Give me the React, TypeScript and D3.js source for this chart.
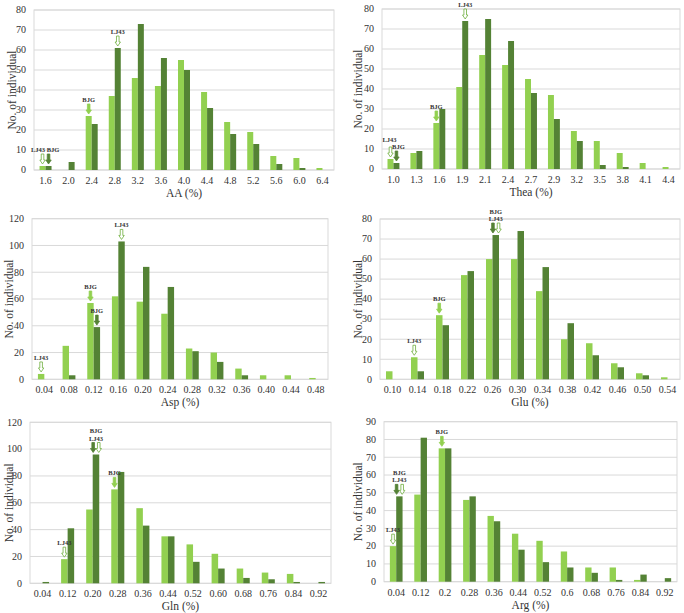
import * as d3 from 'd3'

// ---- data ----
const aaCats = ['1.6', '2.0', '2.4', '2.8', '3.2', '3.6', '4.0', '4.4', '4.8', '5.2', '5.6', '6.0', '6.4']
const aaLight = [2, 0, 27, 37, 46, 42, 55, 39, 24, 19, 7, 6, 1]
const aaDark = [2, 4, 23, 61, 73, 56, 50, 31, 18, 13, 3, 1, 0]

const theaCats = ['1.0', '1.3', '1.6', '1.9', '2.1', '2.4', '2.7', '2.9', '3.2', '3.5', '3.8', '4.1', '4.4']
const theaLight = [5, 8, 23, 41, 57, 52, 45, 37, 19, 14, 8, 3, 1]
const theaDark = [3, 9, 30, 74, 75, 64, 38, 25, 14, 2, 1, 0, 0]

const aspCats = ['0.04', '0.08', '0.12', '0.16', '0.20', '0.24', '0.28', '0.32', '0.36', '0.40', '0.44', '0.48']
const aspLight = [4, 25, 57, 62, 58, 49, 23, 20, 8, 3, 3, 1]
const aspDark = [0, 3, 39, 103, 84, 69, 21, 13, 3, 0, 0, 0]

const gluCats = ['0.10', '0.14', '0.18', '0.22', '0.26', '0.30', '0.34', '0.38', '0.42', '0.46', '0.50', '0.54']
const gluLight = [4, 11, 32, 52, 60, 60, 44, 20, 18, 8, 3, 1]
const gluDark = [0, 4, 27, 54, 72, 74, 56, 28, 12, 6, 2, 0]

const glnCats = ['0.04', '0.12', '0.20', '0.28', '0.36', '0.44', '0.52', '0.60', '0.68', '0.76', '0.84', '0.92']
const glnLight = [0, 18, 55, 70, 56, 35, 29, 22, 11, 8, 7, 0]
const glnDark = [1, 41, 96, 83, 43, 35, 16, 11, 4, 3, 1, 1]

const argCats = ['0.04', '0.12', '0.2', '0.28', '0.36', '0.44', '0.52', '0.6', '0.68', '0.76', '0.84', '0.92']
const argLight = [20, 49, 75, 46, 37, 27, 23, 17, 8, 8, 1, 0]
const argDark = [48, 81, 75, 48, 34, 18, 11, 8, 5, 1, 4, 2]

type ArrowKind = 'hollow' | 'filledLight' | 'filledDark'
interface Note {
  cat: string
  bar: 'light' | 'dark'
  arrows: ArrowKind[]
  lines: string[]
  dx?: number
  dy?: number
}

const aaNotes: Note[] = [
  { cat: '1.6', bar: 'light', arrows: ['hollow'], lines: ['LJ43'], dx: -4.5 },
  { cat: '1.6', bar: 'dark', arrows: ['filledDark'], lines: ['BJG'], dx: 4.5 },
  { cat: '2.4', bar: 'light', arrows: ['filledLight'], lines: ['BJG'] },
  { cat: '2.8', bar: 'dark', arrows: ['hollow'], lines: ['LJ43'] },
]
const theaNotes: Note[] = [
  { cat: '1.0', bar: 'light', arrows: ['hollow'], lines: ['LJ43'], dx: -1, dy: -3 },
  { cat: '1.0', bar: 'dark', arrows: ['filledDark'], lines: ['BJG'], dx: 2 },
  { cat: '1.6', bar: 'light', arrows: ['filledLight'], lines: ['BJG'] },
  { cat: '1.9', bar: 'dark', arrows: ['hollow'], lines: ['LJ43'] },
]
const aspNotes: Note[] = [
  { cat: '0.04', bar: 'light', arrows: ['hollow'], lines: ['LJ43'] },
  { cat: '0.12', bar: 'light', arrows: ['filledLight'], lines: ['BJG'] },
  { cat: '0.12', bar: 'dark', arrows: ['filledDark'], lines: ['BJG'] },
  { cat: '0.16', bar: 'dark', arrows: ['hollow'], lines: ['LJ43'] },
]
const gluNotes: Note[] = [
  { cat: '0.14', bar: 'light', arrows: ['hollow'], lines: ['LJ43'] },
  { cat: '0.18', bar: 'light', arrows: ['filledLight'], lines: ['BJG'] },
  { cat: '0.26', bar: 'dark', arrows: ['filledDark', 'hollow'], lines: ['BJG', 'LJ43'] },
]
const glnNotes: Note[] = [
  { cat: '0.12', bar: 'light', arrows: ['hollow'], lines: ['LJ43'] },
  { cat: '0.20', bar: 'dark', arrows: ['filledDark', 'hollow'], lines: ['BJG', 'LJ43'] },
  { cat: '0.28', bar: 'light', arrows: ['filledLight'], lines: ['BJG'] },
]
const argNotes: Note[] = [
  { cat: '0.04', bar: 'light', arrows: ['hollow'], lines: ['LJ43'] },
  { cat: '0.04', bar: 'dark', arrows: ['filledDark', 'hollow'], lines: ['BJG', 'LJ43'] },
  { cat: '0.2', bar: 'light', arrows: ['filledLight'], lines: ['BJG'] },
]

const LIGHT = '#92d050'
const DARK = '#548235'
const GRID = '#d9d9d9'
const FONT = 'Liberation Serif, DejaVu Serif, serif'

interface PanelSpec {
  title: string
  cats: string[]
  light: number[]
  dark: number[]
  max: number
  step: number
  notes: Note[]
  x0: number
  x1: number
  top: number
  bottom: number
  yTitleX: number
}

const panels: PanelSpec[] = [
  { title: 'AA (%)', cats: aaCats, light: aaLight, dark: aaDark, max: 80, step: 10, notes: aaNotes,
    x0: 34, x1: 334, top: 10, bottom: 170, yTitleX: 12 },
  { title: 'Thea (%)', cats: theaCats, light: theaLight, dark: theaDark, max: 80, step: 10, notes: theaNotes,
    x0: 382, x1: 680, top: 9, bottom: 169, yTitleX: 358 },
  { title: 'Asp (%)', cats: aspCats, light: aspLight, dark: aspDark, max: 120, step: 20, notes: aspNotes,
    x0: 32, x1: 328, top: 218.7, bottom: 379.3, yTitleX: 9 },
  { title: 'Glu (%)', cats: gluCats, light: gluLight, dark: gluDark, max: 80, step: 10, notes: gluNotes,
    x0: 380, x1: 680, top: 219, bottom: 379.3, yTitleX: 358 },
  { title: 'Gln (%)', cats: glnCats, light: glnLight, dark: glnDark, max: 120, step: 20, notes: glnNotes,
    x0: 30, x1: 331, top: 422.3, bottom: 583.3, yTitleX: 9 },
  { title: 'Arg (%)', cats: argCats, light: argLight, dark: argDark, max: 90, step: 10, notes: argNotes,
    x0: 384, x1: 677, top: 421.7, bottom: 581.7, yTitleX: 358 },
]

function arrowPath(cx: number, y0: number, h = 10, shaft = 2.6, head = 5.4, headH = 4) {
  const s = shaft / 2
  const hw = head / 2
  const yb = y0 + h - headH
  return `M${cx - s},${y0}L${cx + s},${y0}L${cx + s},${yb}L${cx + hw},${yb}L${cx},${y0 + h}L${cx - hw},${yb}L${cx - s},${yb}Z`
}

function Panel({ p }: { p: PanelSpec }) {
  const x = d3.scaleBand<string>().domain(p.cats).range([p.x0, p.x1]).padding(0)
  const y = d3.scaleLinear().domain([0, p.max]).range([p.bottom, p.top])
  const ticks = d3.range(0, p.max + p.step / 2, p.step)
  const bw = x.bandwidth() * 0.26
  const center = (c: string) => (x(c) ?? 0) + x.bandwidth() / 2

  return (
    <g fontFamily={FONT}>
      {/* gridlines */}
      {ticks.map(t => (
        <line key={t} x1={p.x0} x2={p.x1} y1={y(t)} y2={y(t)} stroke={GRID} strokeWidth={1} />
      ))}
      <rect x={p.x0} y={p.top} width={p.x1 - p.x0} height={p.bottom - p.top} fill="none" stroke={GRID} strokeWidth={1} />
      {/* y tick labels */}
      {ticks.map(t => (
        <text key={t} x={p.x0 - 8} y={y(t)} dy="0.33em" textAnchor="end" fontSize={10} fill="#333">{t}</text>
      ))}
      {/* bars */}
      {p.cats.map((c, i) => (
        <g key={c}>
          {p.light[i] > 0 && (
            <rect x={center(c) - bw} y={y(p.light[i])} width={bw} height={y(0) - y(p.light[i])} fill={LIGHT} />
          )}
          {p.dark[i] > 0 && (
            <rect x={center(c)} y={y(p.dark[i])} width={bw} height={y(0) - y(p.dark[i])} fill={DARK} />
          )}
        </g>
      ))}
      {/* x tick labels */}
      {p.cats.map(c => (
        <text key={c} x={center(c)} y={p.bottom + 14} textAnchor="middle" fontSize={10} fill="#333">{c}</text>
      ))}
      <text x={(p.x0 + p.x1) / 2} y={p.bottom + 27} textAnchor="middle" fontSize={11.5} fill="#333">{p.title}</text>
      <text
        transform={`translate(${p.yTitleX},${(p.top + p.bottom) / 2}) rotate(-90)`}
        textAnchor="middle" dy="0.35em" fontSize={11.5} fill="#333"
      >No. of individual</text>
      {/* annotations */}
      {p.notes.map((n, k) => {
        const i = p.cats.indexOf(n.cat)
        const v = n.bar === 'light' ? p.light[i] : p.dark[i]
        const bx = n.bar === 'light' ? center(n.cat) - bw / 2 : center(n.cat) + bw / 2
        const arrowTop = y(v) - 12
        const off = n.arrows.length === 2 ? 2.8 : 0
        const labelBase = arrowTop - 2 + (n.dy ?? 0)
        return (
          <g key={k}>
            {n.arrows.map((a, j) => {
              const cx = bx + (n.arrows.length === 2 ? (j === 0 ? -off : off) : 0)
              const fill = a === 'hollow' ? '#ffffff' : a === 'filledLight' ? LIGHT : DARK
              const stroke = a === 'hollow' ? '#6fae3e' : a === 'filledLight' ? LIGHT : DARK
              return <path key={j} d={arrowPath(cx, arrowTop)} fill={fill} stroke={stroke} strokeWidth={0.8} />
            })}
            {n.lines.map((l, j) => (
              <text
                key={j}
                x={bx + (n.dx ?? 0)}
                y={labelBase - (n.lines.length - 1 - j) * 7.5}
                textAnchor="middle" fontSize={6.5} fontWeight="bold" fill="#333"
              >{l}</text>
            ))}
          </g>
        )
      })}
    </g>
  )
}

export default function App() {
  return (
    <div style={{ position: 'absolute', left: 0, top: 0 }}>
      <svg width={684} height={613} viewBox="0 0 684 613" style={{ display: 'block', background: '#fff' }}>
        {panels.map(p => <Panel key={p.title} p={p} />)}
      </svg>
    </div>
  )
}
